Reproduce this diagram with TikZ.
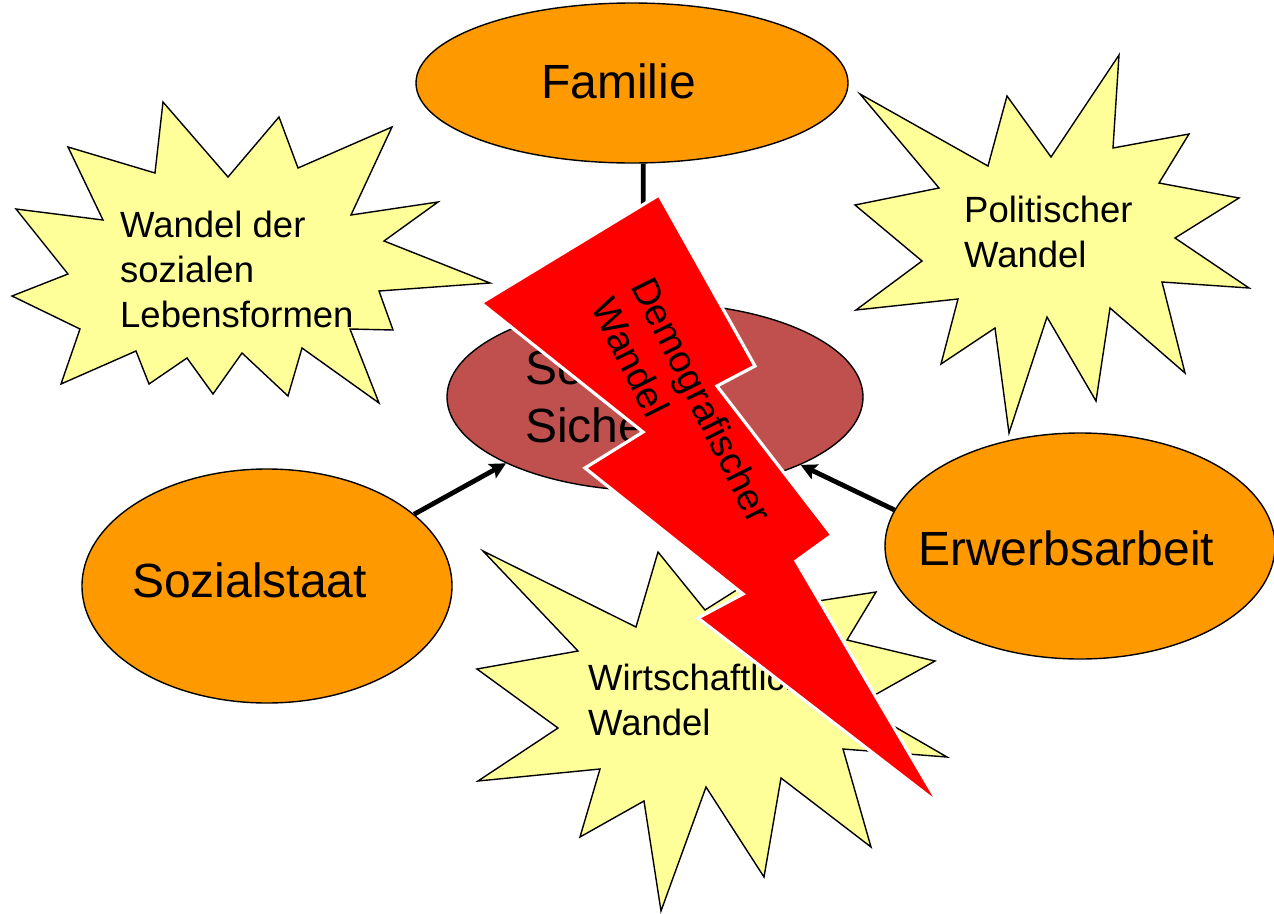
\documentclass[tikz,border=0pt]{standalone}
\usepackage{fontspec}
\setmainfont{Liberation Sans}
\usetikzlibrary{shapes.geometric,arrows.meta}
\definecolor{orangeF}{HTML}{FF9900}
\definecolor{sichF}{HTML}{C0504D}
\definecolor{starF}{HTML}{FFFF99}
\definecolor{boltF}{HTML}{FF0000}
\tikzset{
  burst/.style={draw=black, line width=1.4pt, fill=starF, line join=miter},
  oval/.style={ellipse, draw=black, line width=1.4pt, fill=orangeF, inner sep=0pt},
  lbl/.style={inner sep=0pt, font=\fontsize{36.5}{45}\selectfont, align=left},
  biglbl/.style={inner sep=0pt, font=\fontsize{48}{58}\selectfont, align=left},
  conn/.style={line width=4.8pt, -{Stealth[length=16pt,width=16pt,inset=3pt]}},
  bolt/.style={fill=boltF, draw=white, line width=3.2pt, line join=miter},
}
\begin{document}
\begin{tikzpicture}[x=1pt,y=-1pt]
\useasboundingbox[fill=white] (0,0) rectangle (1274,913);

% starburst: Wandel der sozialen Lebensformen
\draw[burst] (163,102) -- (228,177) -- (279,117) -- (298,168) -- (392,127) -- (351,215)
  -- (438,202) -- (384,241) -- (490,283) -- (379,291) -- (393,330) -- (350,329)
  -- (379,403) -- (302,348) -- (288,396) -- (242,353) -- (213,394) -- (187,358)
  -- (149,384) -- (136,351) -- (61,384) -- (80,329) -- (12,296) -- (68,274)
  -- (16,209) -- (103,220) -- (68,147) -- (155,173) -- cycle;
\node[lbl, anchor=base west] (t1) at (120,327) {Wandel der\\sozialen\\Lebensformen};

% starburst: Politischer Wandel
\draw[burst] (860,94) -- (988,166) -- (1007,96) -- (1051,157) -- (1119,55) -- (1113,148)
  -- (1189,134) -- (1159,183) -- (1239,198) -- (1175,238) -- (1249,288) -- (1162,282)
  -- (1185,373) -- (1110,308) -- (1096,401) -- (1047,317) -- (1009,433) -- (995,328)
  -- (941,364) -- (958,299) -- (856,310) -- (922,261) -- (855,205) -- (939,188) -- cycle;
\node[lbl, anchor=base west] (t2) at (964,267) {Politischer\\Wandel};

% starburst: Wirtschaftlicher Wandel
\draw[burst] (871,847) -- (781,778) -- (764,877) -- (706,787) -- (661,911) -- (644,801)
  -- (580,837) -- (600,769) -- (478,781) -- (558,728) -- (477,669) -- (578,651)
  -- (483,551) -- (636,627) -- (658,552) -- (705,610) -- (765,572) -- (805,603)
  -- (876,592) -- (847,640) -- (935,661) -- (857,705) -- (947,757) -- (843,749) -- cycle;
\node[lbl, anchor=base west] (t3) at (588,735) {Wirtschaftlicher\\Wandel};

% ellipses
\node[oval, minimum width=432pt, minimum height=160pt] (fam) at (632,83) {};
\node[biglbl, anchor=base west] (famt) at (541,98) {Familie};
\node[oval, fill=sichF, minimum width=416pt, minimum height=188pt] (sich) at (655,397) {};
\node[biglbl, anchor=base west] (sicht) at (525,442) {Soziale\\Sicherung};
\node[oval, minimum width=370pt, minimum height=234pt] (soz) at (267,586) {};
\node[biglbl, anchor=base west] (sozt) at (132,597) {Sozialstaat};
\node[oval, minimum width=390pt, minimum height=226pt] (erw) at (1080,546) {};
\node[biglbl, anchor=base west] (erwt) at (918,565) {Erwerbsarbeit};

% connectors
\draw[conn] (fam.278) -- (sich.97);
\draw[conn] (soz.26) -- (sich.204.5);
\draw[conn] (erw.169) -- (sich.335);

% lightning
\draw[bolt] (659,195) -- (755,366) -- (717,386) -- (832,535) -- (796,561) -- (939,804)
  -- (698,618) -- (743,594) -- (585,468) -- (643,432) -- (481,303) -- cycle;
\node[lbl, font=\fontsize{38}{45}\selectfont, rotate=-63.5, anchor=base west] (demo) at (590,306) {Demografischer\\Wandel};
\end{tikzpicture}
\end{document}
